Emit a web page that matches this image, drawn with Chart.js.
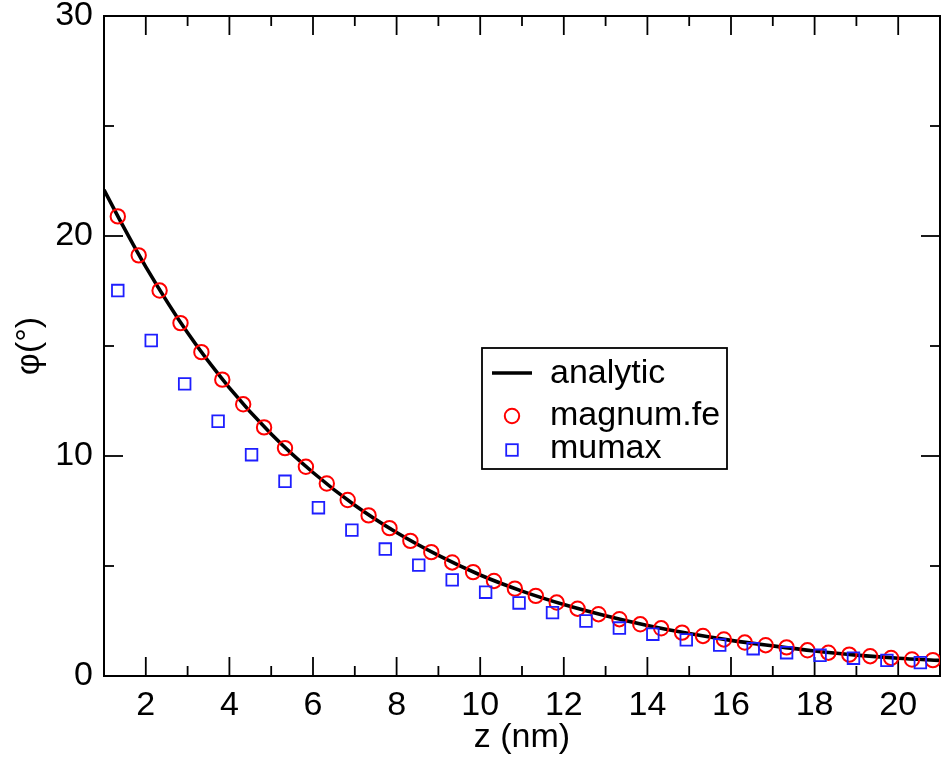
<!DOCTYPE html>
<html>
<head>
<meta charset="utf-8">
<script src="https://cdn.jsdelivr.net/npm/chart.js@4.4.1/dist/chart.umd.min.js"></script>
<style>
html,body{margin:0;padding:0;background:#fff;overflow:hidden;width:947px;height:762px}
#wrap{position:absolute;left:0;top:0;width:950px;height:762px}
</style>
</head>
<body>
<div id="wrap"><canvas id="c"></canvas></div>
<script>
// ---- data ----
const analyticZ   = [1, 1.5, 2, 3, 4, 5, 6, 7, 8, 9, 10, 11, 12, 13, 14, 15, 16, 17, 18, 19, 20, 21];
const analyticPhi = [22.1, 20.3, 18.6, 15.6, 13.1, 11.0, 9.25, 7.76, 6.52, 5.48, 4.59, 3.86, 3.25, 2.74, 2.30, 1.93, 1.62, 1.37, 1.14, 0.95, 0.81, 0.71];

const magnumZ   = [1.33, 1.83, 2.33, 2.83, 3.33, 3.83, 4.33, 4.83, 5.33, 5.83, 6.33, 6.83, 7.33, 7.83, 8.33, 8.83, 9.33, 9.83, 10.33, 10.83,
                   11.33, 11.83, 12.33, 12.83, 13.33, 13.83, 14.33, 14.83, 15.33, 15.83, 16.33, 16.83, 17.33, 17.83, 18.33, 18.83, 19.33, 19.83, 20.33, 20.83];
const magnumPhi = [20.89, 19.12, 17.52, 16.04, 14.72, 13.47, 12.35, 11.30, 10.36, 9.51, 8.75, 8.00, 7.30, 6.72, 6.14, 5.63, 5.16, 4.72, 4.32, 3.97,
                   3.64, 3.34, 3.06, 2.81, 2.58, 2.35, 2.17, 1.97, 1.82, 1.66, 1.52, 1.40, 1.30, 1.17, 1.06, 0.97, 0.90, 0.82, 0.75, 0.72];

const mumaxZ   = [1.33, 2.13, 2.93, 3.73, 4.53, 5.33, 6.13, 6.93, 7.73, 8.53, 9.33, 10.13, 10.93, 11.73, 12.53, 13.33, 14.13, 14.93, 15.73, 16.53, 17.33, 18.13, 18.93, 19.73, 20.53];
const mumaxPhi = [17.52, 15.25, 13.28, 11.58, 10.06, 8.85, 7.65, 6.63, 5.77, 5.04, 4.37, 3.81, 3.32, 2.88, 2.50, 2.18, 1.90, 1.64, 1.41, 1.24, 1.06, 0.94, 0.81, 0.71, 0.61];

const seriesLabels = ['analytic', 'magnum.fe', 'mumax'];
const xMajorTicks = [2, 4, 6, 8, 10, 12, 14, 16, 18, 20];
const xMinorTicks = [3, 5, 7, 9, 11, 13, 15, 17, 19, 21];
const yMajorTicks = [0, 10, 20, 30];
const yMinorTicks = [5, 15, 25];
const xTitle = 'z (nm)';
const yTitle = 'φ(°)';

// ---- styling ----
const FONT = '"Liberation Sans", Arial, Helvetica, sans-serif';
const FS = 34;

const toPts = (xs, ys) => xs.map((v, i) => ({x: v, y: ys[i]}));

const framePlugin = {
  id: 'frame',
  beforeDatasetsDraw(chart) {
    const {ctx, chartArea: a, scales: {x, y}} = chart;
    ctx.save();
    ctx.strokeStyle = '#000';
    ctx.lineWidth = 2;
    ctx.strokeRect(a.left, a.top, a.right - a.left, a.bottom - a.top);
    ctx.lineWidth = 1.8;
    const seg = (x1, y1, x2, y2) => { ctx.beginPath(); ctx.moveTo(x1, y1); ctx.lineTo(x2, y2); ctx.stroke(); };
    const MAJ = 19, MIN = 10;
    xMajorTicks.forEach(v => { const p = x.getPixelForValue(v); seg(p, a.bottom, p, a.bottom - MAJ); seg(p, a.top, p, a.top + MAJ); });
    xMinorTicks.forEach(v => { const p = x.getPixelForValue(v); seg(p, a.bottom, p, a.bottom - MIN); seg(p, a.top, p, a.top + MIN); });
    yMajorTicks.forEach(v => { const p = y.getPixelForValue(v); seg(a.left, p, a.left + MAJ, p); seg(a.right, p, a.right - MAJ, p); });
    yMinorTicks.forEach(v => { const p = y.getPixelForValue(v); seg(a.left, p, a.left + MIN, p); seg(a.right, p, a.right - MIN, p); });
    ctx.restore();
  }
};

const legendPlugin = {
  id: 'boxLegend',
  afterDatasetsDraw(chart) {
    const ctx = chart.ctx;
    const ds = chart.data.datasets;
    ctx.save();
    ctx.fillStyle = '#fff';
    ctx.fillRect(482, 348, 245, 121);
    ctx.strokeStyle = '#000';
    ctx.lineWidth = 1.8;
    ctx.strokeRect(482, 348, 245, 121);
    ctx.font = FS + 'px ' + FONT;
    ctx.fillStyle = '#000';
    ctx.textBaseline = 'alphabetic';
    ctx.textAlign = 'left';
    // analytic
    ctx.strokeStyle = ds[0].borderColor; ctx.lineWidth = ds[0].borderWidth;
    ctx.beginPath(); ctx.moveTo(492, 373); ctx.lineTo(532, 373); ctx.stroke();
    ctx.fillText(ds[0].label, 550, 383);
    // magnum.fe
    ctx.strokeStyle = ds[1].borderColor; ctx.lineWidth = ds[1].borderWidth;
    ctx.beginPath(); ctx.arc(512, 416, ds[1].pointRadius, 0, Math.PI * 2); ctx.stroke();
    ctx.fillText(ds[1].label, 550, 424.5);
    // mumax
    ctx.strokeStyle = ds[2].borderColor; ctx.lineWidth = ds[2].borderWidth;
    const s = ds[2].pointRadius * Math.SQRT1_2;
    ctx.strokeRect(512 - s, 450 - s, 2 * s, 2 * s);
    ctx.fillText(ds[2].label, 550, 458);
    ctx.restore();
  }
};

new Chart(document.getElementById('c'), {
  type: 'scatter',
  data: {
    datasets: [
      {
        label: seriesLabels[0],
        data: toPts(analyticZ, analyticPhi),
        showLine: true,
        borderColor: '#000',
        backgroundColor: '#000',
        borderWidth: 3.6,
        pointRadius: 0,
        cubicInterpolationMode: 'monotone',
        order: 3
      },
      {
        label: seriesLabels[1],
        data: toPts(magnumZ, magnumPhi),
        showLine: false,
        borderColor: '#ff0000',
        backgroundColor: 'rgba(0,0,0,0)',
        borderWidth: 2,
        pointRadius: 7.2,
        pointStyle: 'circle',
        order: 2
      },
      {
        label: seriesLabels[2],
        data: toPts(mumaxZ, mumaxPhi),
        showLine: false,
        borderColor: '#1e1eff',
        backgroundColor: 'rgba(0,0,0,0)',
        borderWidth: 1.8,
        pointRadius: 8.2,
        pointStyle: 'rect',
        order: 1
      }
    ]
  },
  options: {
    responsive: true,
    maintainAspectRatio: false,
    animation: false,
    events: [],
    layout: {padding: {top: 16, left: 0, right: 0, bottom: 0}},
    plugins: {legend: {display: false}, tooltip: {enabled: false}},
    scales: {
      x: {
        type: 'linear', position: 'bottom', min: 1, max: 21,
        grid: {display: false}, border: {display: false},
        afterBuildTicks: s => { s.ticks = xMajorTicks.map(v => ({value: v})); },
        afterFit: s => { s.height = 86; s.paddingLeft = 0; s.paddingRight = 0; },
        ticks: {color: '#000', font: {family: FONT, size: FS, lineHeight: 1.2}, padding: 1, maxRotation: 0, autoSkip: false},
        title: {display: true, text: xTitle, color: '#000', font: {family: FONT, size: FS, lineHeight: 1.2}, padding: {top: 0, bottom: 4}}
      },
      y: {
        type: 'linear', position: 'left', min: 0, max: 30,
        grid: {display: false}, border: {display: false},
        afterBuildTicks: s => { s.ticks = yMajorTicks.map(v => ({value: v})); },
        afterFit: s => { s.width = 104; s.paddingTop = 0; s.paddingBottom = 0; },
        ticks: {color: '#000', font: {family: FONT, size: FS, lineHeight: 1.2}, padding: 3, autoSkip: false},
        title: {display: true, text: yTitle, color: '#000', font: {family: FONT, size: FS, lineHeight: 1.2}, padding: {top: 9, bottom: 0}}
      }
    }
  },
  plugins: [framePlugin, legendPlugin]
});
</script>
</body>
</html>
